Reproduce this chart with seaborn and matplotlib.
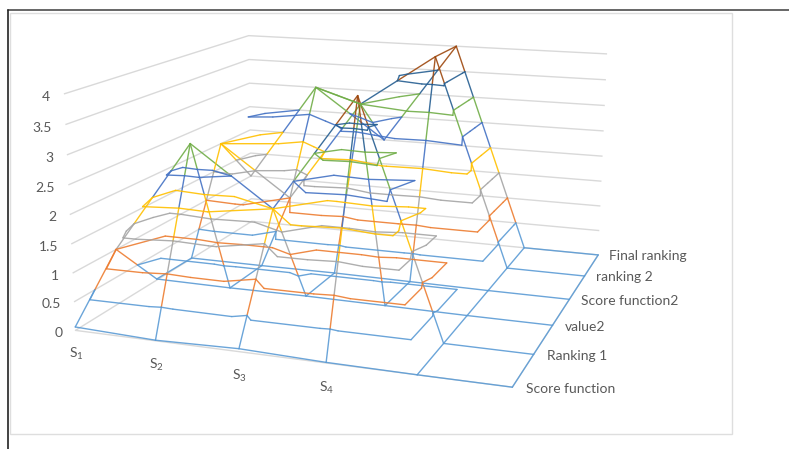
import numpy as np
import matplotlib
matplotlib.use('Agg')
import matplotlib.pyplot as plt
import seaborn as sns
from matplotlib.lines import Line2D
from matplotlib.patches import Rectangle
from mpl_toolkits.mplot3d import proj3d

# Surface values, one list per series, S1..S4 and two empty categories
score_function = [0.06, 0.01, 0.05, 0.01, 0, 0]
ranking_1 = [1, 3, 2, 4, 0, 0]
value2 = [0.02, 0.01, 0.02, 0.01, 0, 0]
score_function2 = [0.01, 0.01, 0.02, 0.01, 0, 0]
ranking_2 = [2, 1, 3, 4, 0, 0]
final_ranking = [1, 3, 2, 4, 0, 0]

series_labels = ['Score function', 'Ranking 1', 'value2', 'Score function2', 'ranking 2', 'Final ranking']
category_labels = ['S$_1$', 'S$_2$', 'S$_3$', 'S$_4$']
z_ticks = [0, 0.5, 1, 1.5, 2, 2.5, 3, 3.5, 4]
z_tick_labels = ['0', '0.5', '1', '1.5', '2', '2.5', '3', '3.5', '4']

sns.set_theme(style='white')
plt.rcParams['font.family'] = ['Lato', 'DejaVu Sans']
plt.rcParams['mathtext.default'] = 'regular'
band_colors = sns.color_palette(['#5B9BD5', '#ED7D31', '#A5A5A5', '#FFC000',
                                 '#4472C4', '#70AD47', '#255E91', '#9E480E'])
text_color = '#595959'
grid_color = '#D9D9D9'
line_alpha = 0.9
W, H = 789, 449

Z = np.array([score_function, ranking_1, value2, score_function2, ranking_2, final_ranking], float)
cols = np.arange(Z.shape[1])
rows = np.arange(Z.shape[0])

fig = plt.figure(figsize=(W / 100, H / 100), dpi=100, facecolor='white')

# chart area border and the dark crop lines of the screenshot
fig.add_artist(Rectangle((10 / W, 1 - 434 / H), 722 / W, 421 / H, transform=fig.transFigure,
                         fill=False, edgecolor='#DEDEDE', linewidth=1))
fig.add_artist(Line2D([8 / W, 1], [1 - 10 / H, 1 - 10 / H], color='#666666', linewidth=1.4))
fig.add_artist(Line2D([8 / W, 8 / W], [0, 1 - 10 / H], color='#222222', linewidth=1.2))

# axes rectangle comes from a fit of the 3D camera against the picture
size = 607.3
ax = fig.add_axes([47.2 / W, (H - 494.73) / H, size / W, size / H], projection='3d')
ax.set_facecolor('none')
ax.computed_zorder = False
ax.view_init(13.735, -70.660, -0.109)
ax.set_proj_type('persp', focal_length=0.4281)
ax.set_box_aspect((1.8628, 1.8317, 1), zoom=1)

# only the z gridlines stay, they run over the left and the back wall
ax.set_xticks([])
ax.set_yticks([])
ax.set_zticks(z_ticks)
ax.zaxis._axinfo['grid'].update(color=grid_color, linewidth=1)
ax.zaxis._axinfo['tick'].update(linewidth={True: 0, False: 0})
for tick in ax.zaxis.get_major_ticks():
    tick.label1.set_visible(False)
    tick.label2.set_visible(False)
for axis in (ax.xaxis, ax.yaxis, ax.zaxis):
    axis.set_pane_color((1, 1, 1, 0))
    axis.pane.set_edgecolor((1, 1, 1, 0))
    axis.line.set_color((1, 1, 1, 0))

ax.set_xlim(0, 5)
ax.set_ylim(0, 5)
ax.set_zlim(0, 4)

# floor edges
ax.plot([cols[0], cols[-1], cols[-1]], [rows[0], rows[0], rows[-1]], [0, 0, 0], color=grid_color, linewidth=1)

levels = np.array(z_ticks)


def draw_edge(x0, y0, z0, x1, y1, z1):
    # one mesh edge, cut at the band limits so each piece takes its band colour
    lo, hi = min(z0, z1), max(z0, z1)
    cuts = [0.0, 1.0]
    if hi > lo:
        cuts += [(v - z0) / (z1 - z0) for v in levels if lo < v < hi]
    cuts = sorted(cuts)
    for a, b in zip(cuts[:-1], cuts[1:]):
        mid = z0 + (z1 - z0) * (a + b) / 2
        band = min(int(mid / 0.5), len(band_colors) - 1)
        ax.plot([x0 + (x1 - x0) * a, x0 + (x1 - x0) * b],
                [y0 + (y1 - y0) * a, y0 + (y1 - y0) * b],
                [z0 + (z1 - z0) * a, z0 + (z1 - z0) * b],
                color=band_colors[band], linewidth=1, alpha=line_alpha, solid_capstyle='round')


def draw_contour(level, color):
    # each cell is a fan of four triangles round its middle. A flat ramp keeps its
    # mean there, a twisted cell gets a higher middle: Excel's angular rings
    for r in rows[:-1]:
        for c in cols[:-1]:
            corners = [(c, r), (c + 1, r), (c + 1, r + 1), (c, r + 1)]
            zs = [Z[q, p] for p, q in corners]
            twist = abs(zs[0] + zs[2] - zs[1] - zs[3]) / 4
            mid = ((c + 0.5, r + 0.5), min(max(zs), np.mean(zs) + 1.5 * twist))
            for i in range(4):
                j = (i + 1) % 4
                tri = [(corners[i], zs[i]), (corners[j], zs[j]), mid]
                hits = []
                for k in range(3):
                    (p0, v0), (p1, v1) = tri[k], tri[(k + 1) % 3]
                    if (v0 >= level) != (v1 >= level):
                        t = (level - v0) / (v1 - v0)
                        hits.append((p0[0] + (p1[0] - p0[0]) * t, p0[1] + (p1[1] - p0[1]) * t))
                if len(hits) == 2:
                    ax.plot([hits[0][0], hits[1][0]], [hits[0][1], hits[1][1]], [level, level],
                            color=color, linewidth=1, alpha=line_alpha, solid_capstyle='round')


for r in rows:
    for c in cols[:-1]:
        draw_edge(c, r, Z[r, c], c + 1, r, Z[r, c + 1])
for c in cols:
    for r in rows[:-1]:
        draw_edge(c, r, Z[r, c], c, r + 1, Z[r + 1, c])

# contour lines at every band limit
for level, color in zip(levels[1:-1], band_colors):
    draw_contour(level, color)


def label(x, y, z, text, **kw):
    # 3D anchor, written as 2D text so it stays where it is projected
    px, py, _ = proj3d.proj_transform(x, y, z, ax.get_proj())
    ax.text2D(px, py, text, transform=ax.transData, color=text_color, fontsize=10, va='center', **kw)


for z, text in zip(z_ticks, z_tick_labels):
    label(-0.17, 0, z - 0.07, text, ha='right')
for c, text in zip(cols, category_labels):
    label(c, 0, -0.42, text, ha='center')
for r, text in zip(rows, series_labels):
    label(5.14, r, 0, text, ha='left')

fig.savefig('out.png', dpi=100)
